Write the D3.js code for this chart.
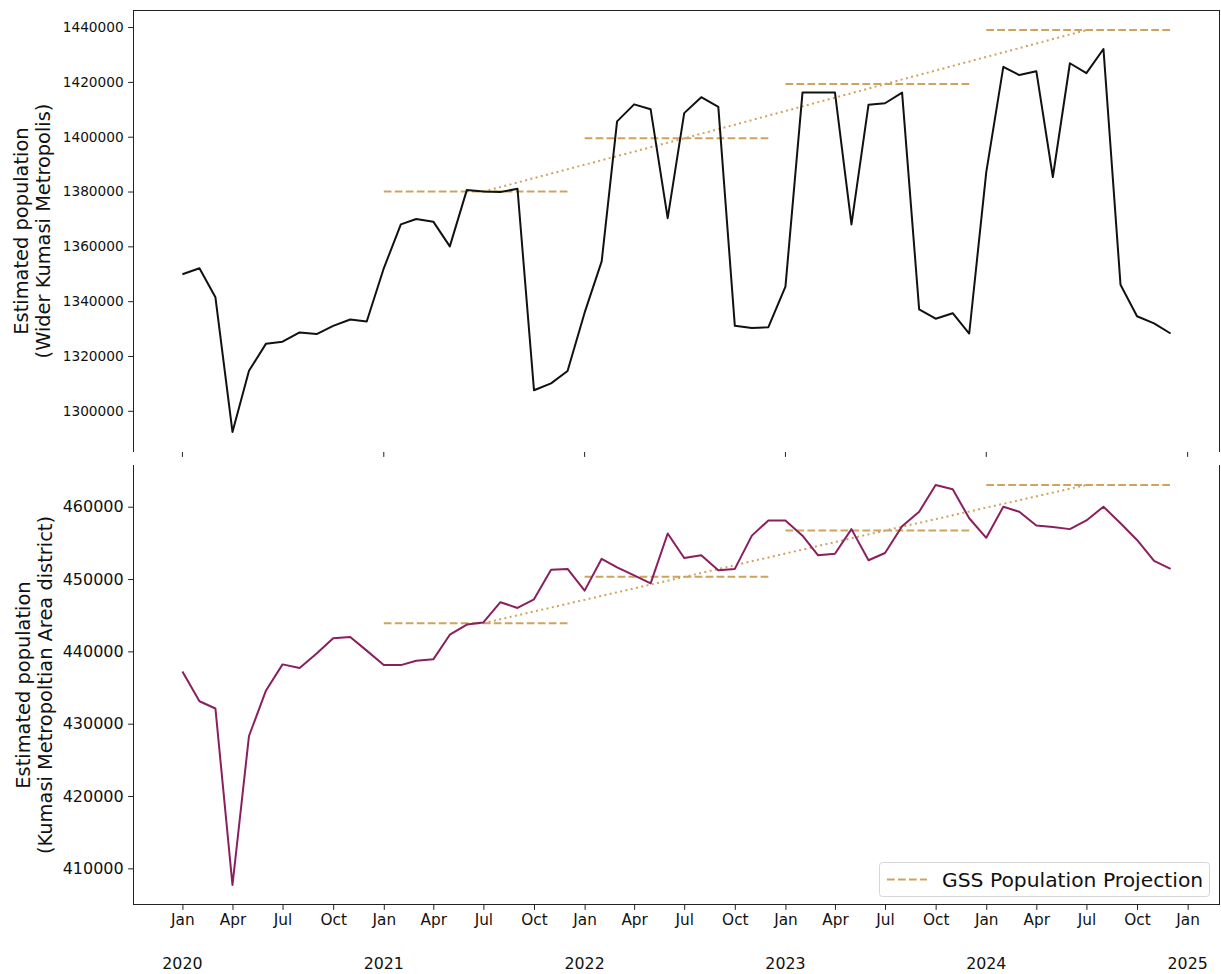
<!DOCTYPE html>
<html>
<head>
<meta charset="utf-8">
<script src="https://cdn.jsdelivr.net/npm/d3@7"></script>
<style>
  html, body { margin: 0; padding: 0; background: #fff; }
  svg { display: block; font-family: "DejaVu Sans", sans-serif; }
</style>
</head>
<body>
<svg id="chart" width="1221" height="974"></svg>
<script>
// ---------------- DATA ----------------
const startMonth = "2020-01";       // first monthly observation
const monthCount = 60;              // Jan 2020 .. Dec 2024

const widerKumasi = [
  1349800, 1352000, 1341400, 1292300, 1314600, 1324500, 1325200, 1328600, 1328000, 1331000, 1333300, 1332600,
  1352000, 1368000, 1370000, 1369000, 1360000, 1380600, 1380000, 1379800, 1381000, 1307500, 1310000, 1314500,
  1335800, 1354500, 1405600, 1411800, 1410000, 1370300, 1408600, 1414400, 1410900, 1331000, 1330200, 1330500,
  1345300, 1416100, 1416100, 1416100, 1368000, 1411700, 1412200, 1416100, 1337000, 1333600, 1335600, 1328200,
  1387100, 1425500, 1422500, 1423900, 1385300, 1426800, 1423200, 1432000, 1346000, 1334500, 1331900, 1328200
];

const kumasiMetro = [
  437200, 433100, 432100, 407700, 428300, 434600, 438200, 437700, 439700, 441800, 442000, 440100,
  438100, 438100, 438700, 438900, 442300, 443700, 444000, 446800, 446000, 447200, 451300, 451400,
  448400, 452800, 451600, 450500, 449400, 456300, 452900, 453300, 451200, 451400, 456000, 458100,
  458100, 456000, 453300, 453500, 456900, 452600, 453600, 457300, 459300, 463000, 462400, 458400,
  455700, 460000, 459300, 457400, 457200, 456900, 458100, 460000, 457700, 455400, 452500, 451400
];

const gssYears = [2021, 2022, 2023, 2024];
const gssWider = [1380000, 1399400, 1419200, 1438900];
const gssMetro = [443900, 450300, 456700, 463000];

const topTicks = [1300000, 1320000, 1340000, 1360000, 1380000, 1400000, 1420000, 1440000];
const bottomTicks = [410000, 420000, 430000, 440000, 450000, 460000];
const monthLabels = ["Jan", "Apr", "Jul", "Oct"];
const yearLabels = [2020, 2021, 2022, 2023, 2024, 2025];

const topLabel = ["Estimated population", "(Wider Kumasi Metropolis)"];
const bottomLabel = ["Estimated population", "(Kumasi Metropoltian Area district)"];
const legendText = "GSS Population Projection";

// ---------------- STYLE ----------------
const gold = "#cfa35e";
const purple = "#8a1f5e";
const black = "#111111";

const svg = d3.select("#chart");
const dates = d3.utcMonth.range(new Date(startMonth + "-01T00:00:00Z"), d3.utcMonth.offset(new Date(startMonth + "-01T00:00:00Z"), monthCount));

const L = 133, R = 1220;
const topPanel = {t: 10, b: 452};
const botPanel = {t: 465, b: 905};

// matplotlib-style 5% margin on the time axis
const d0 = dates[0], d1 = dates[dates.length - 1];
const pad = (d1 - d0) * 0.05;
const x = d3.scaleUtc().domain([new Date(+d0 - pad), new Date(+d1 + pad)]).range([L, R]);

function yScale(values, proj, panel) {
  const lo = Math.min(d3.min(values), d3.min(proj));
  const hi = Math.max(d3.max(values), d3.max(proj));
  const m = (hi - lo) * 0.05;
  return d3.scaleLinear().domain([lo - m, hi + m]).range([panel.b, panel.t]);
}
const yTop = yScale(widerKumasi, gssWider, topPanel);
const yBot = yScale(kumasiMetro, gssMetro, botPanel);

function drawPanel(panel, y, values, proj, color, ticks, tickFont, label, spines) {
  const g = svg.append("g");
  // projection dashed segments
  const segData = gssYears.map((yr, i) => ({
    x0: new Date(Date.UTC(yr, 0, 1)), x1: new Date(Date.UTC(yr, 11, 1)), v: proj[i]
  }));
  g.selectAll("line.seg").data(segData).join("line")
    .attr("x1", d => x(d.x0)).attr("x2", d => x(d.x1))
    .attr("y1", d => y(d.v)).attr("y2", d => y(d.v))
    .attr("stroke", gold).attr("stroke-width", 2).attr("stroke-dasharray", "7.7,3.3");
  // trend dotted line through mid-year points
  const mid = gssYears.map((yr, i) => [new Date(Date.UTC(yr, 6, 1)), proj[i]]);
  g.append("path")
    .attr("d", d3.line().x(d => x(d[0])).y(d => y(d[1]))(mid))
    .attr("fill", "none").attr("stroke", gold).attr("stroke-width", 2)
    .attr("stroke-dasharray", "2,3.4");
  // data line
  g.append("path")
    .attr("d", d3.line().x((d, i) => x(dates[i])).y(d => y(d))(values))
    .attr("fill", "none").attr("stroke", color).attr("stroke-width", 2)
    .attr("stroke-linejoin", "round");

  // y axis
  const ax = g.append("g").attr("transform", `translate(${L},0)`)
    .call(d3.axisLeft(y).tickValues(ticks).tickFormat(d3.format("d")).tickSize(4.9).tickPadding(4.4));
  ax.select(".domain").remove();
  ax.selectAll(".tick line").attr("stroke", "#222").attr("stroke-width", 1);
  ax.selectAll(".tick text").attr("font-size", tickFont).attr("fill", "#111")
    .attr("font-family", "DejaVu Sans");

  // spines
  const sp = g.append("g").attr("stroke", "#222").attr("stroke-width", 1).attr("fill", "none");
  sp.append("line").attr("x1", L + 0.5).attr("x2", L + 0.5).attr("y1", panel.t).attr("y2", panel.b);
  sp.append("line").attr("x1", R - 0.5).attr("x2", R - 0.5).attr("y1", panel.t).attr("y2", panel.b);
  if (spines.top) sp.append("line").attr("x1", L).attr("x2", R).attr("y1", panel.t + 0.5).attr("y2", panel.t + 0.5);
  if (spines.bottom) sp.append("line").attr("x1", L).attr("x2", R).attr("y1", panel.b - 0.5).attr("y2", panel.b - 0.5);

  // y label (two lines, rotated)
  const cy = (panel.t + panel.b) / 2;
  const lab = g.append("text").attr("transform", `translate(0,${cy}) rotate(-90)`)
    .attr("text-anchor", "middle").attr("font-size", 19.4).attr("fill", "#111");
  lab.append("tspan").attr("x", 0).attr("y", spines.labelX[0]).text(label[0]);
  lab.append("tspan").attr("x", 0).attr("y", spines.labelX[1]).text(label[1]);
  return g;
}

drawPanel(topPanel, yTop, widerKumasi, gssWider, black, topTicks, 13.7, topLabel,
  {top: true, bottom: false, labelX: [28, 50]});
drawPanel(botPanel, yBot, kumasiMetro, gssMetro, purple, bottomTicks, 16, bottomLabel,
  {top: false, bottom: true, labelX: [30, 52]});

// top panel: only yearly ticks (shared x, labels hidden)
const janDates = yearLabels.map(yr => new Date(Date.UTC(yr, 0, 1)));
svg.append("g").selectAll("line").data(janDates).join("line")
  .attr("x1", d => x(d)).attr("x2", d => x(d))
  .attr("y1", topPanel.b).attr("y2", topPanel.b + 4.9)
  .attr("stroke", "#222").attr("stroke-width", 1);

// bottom panel: quarterly ticks with month labels, year labels below
const quarters = d3.utcMonth.every(3).range(new Date(Date.UTC(2020, 0, 1)), new Date(Date.UTC(2025, 0, 2)));
const xAx = svg.append("g").attr("transform", `translate(0,${botPanel.b})`)
  .call(d3.axisBottom(x).tickValues(quarters)
    .tickFormat(d => monthLabels[d.getUTCMonth() / 3])
    .tickSize(4.9).tickPadding(4.6));
xAx.select(".domain").remove();
xAx.selectAll(".tick line").attr("stroke", "#222");
xAx.selectAll(".tick text").attr("font-size", 15.3).attr("fill", "#111").attr("font-family", "DejaVu Sans");

svg.append("g").selectAll("text").data(yearLabels).join("text")
  .attr("x", d => x(new Date(Date.UTC(d, 0, 1))))
  .attr("y", 969)
  .attr("text-anchor", "middle").attr("font-size", 15.8).attr("fill", "#111")
  .text(d => d);

// legend
const lg = svg.append("g");
lg.append("rect").attr("x", 879.5).attr("y", 862.5).attr("width", 330).attr("height", 34)
  .attr("rx", 3).attr("fill", "#fff").attr("fill-opacity", 0.8)
  .attr("stroke", "#d6d6d6").attr("stroke-width", 1);
lg.append("line").attr("x1", 887).attr("x2", 927).attr("y1", 879.5).attr("y2", 879.5)
  .attr("stroke", gold).attr("stroke-width", 2).attr("stroke-dasharray", "7.7,3.3");
lg.append("text").attr("x", 942).attr("y", 886.5).attr("font-size", 20.3).attr("fill", "#111")
  .text(legendText);
</script>
</body>
</html>
